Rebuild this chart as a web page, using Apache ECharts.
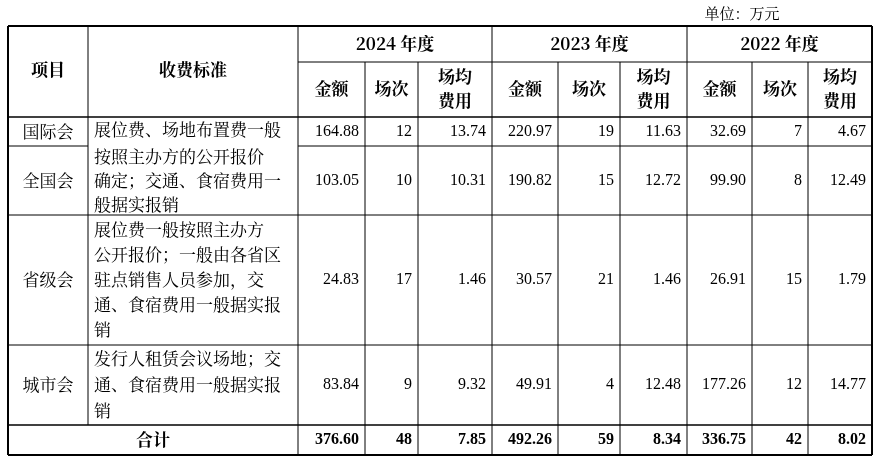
<!DOCTYPE html>
<html><head><meta charset="utf-8">
<script src="https://cdn.jsdelivr.net/npm/echarts@6/dist/echarts.min.js"></script>
<style>html,body{margin:0;padding:0;background:#fff}#c{width:876px;height:465px}</style>
</head><body><div id="c"></div>
<script>
const unitLabel = "单位：万元";
const years = ["2024 年度", "2023 年度", "2022 年度"];
const subHeaders = ["金额", "场次", "场均\n费用"];
const items = ["国际会", "全国会", "省级会", "城市会"];
const criteria = [
  ["展位费、场地布置费一般", "按照主办方的公开报价", "确定；交通、食宿费用一", "般据实报销"],
  ["展位费一般按照主办方", "公开报价；一般由各省区", "驻点销售人员参加，交", "通、食宿费用一般据实报", "销"],
  ["发行人租赁会议场地；交", "通、食宿费用一般据实报", "销"]
];
const rowGJ = ["164.88","12","13.74","220.97","19","11.63","32.69","7","4.67"];
const rowQG = ["103.05","10","10.31","190.82","15","12.72","99.90","8","12.49"];
const rowSJ = ["24.83","17","1.46","30.57","21","1.46","26.91","15","1.79"];
const rowCS = ["83.84","9","9.32","49.91","4","12.48","177.26","12","14.77"];
const totalLabel = "合计";
const rowTotal = ["376.60","48","7.85","492.26","59","8.34","336.75","42","8.02"];

const colX = [8, 88, 298, 365, 418, 492, 558, 620, 687, 752, 808, 872];
const rowY = [26, 62, 117, 146, 215, 345, 425, 455];
const CJK = '"Noto Serif CJK SC","Noto Sans CJK SC",serif';
const NUM = '"Liberation Serif","Times New Roman",serif';
const els = [];
function line(x1,y1,x2,y2,w){els.push({type:'line',shape:{x1,y1,x2,y2},style:{stroke:'#000',lineWidth:w||1}});}
function text(t,x,y,align,font,bold,size){els.push({type:'text',x,y,style:{text:t,textAlign:align||'center',textVerticalAlign:'middle',font:(bold?'bold ':'')+(size||16)+'px '+font,fill:'#000',lineHeight:24}});}

line(colX[0],rowY[0],colX[11],rowY[0],2);
line(colX[0],rowY[7],colX[11],rowY[7],2);
line(colX[0],rowY[0],colX[0],rowY[7],2);
line(colX[11],rowY[0],colX[11],rowY[7],2);
line(colX[2],rowY[1],colX[11],rowY[1],1);
line(colX[0],rowY[2],colX[11],rowY[2],1.5);
line(colX[0],rowY[3],colX[1],rowY[3],1);
line(colX[2],rowY[3],colX[11],rowY[3],1);
line(colX[0],rowY[4],colX[11],rowY[4],1);
line(colX[0],rowY[5],colX[11],rowY[5],1);
line(colX[0],rowY[6],colX[11],rowY[6],1.5);
[1,2].forEach(i=>line(colX[i],rowY[0],colX[i],rowY[6],1));
[5,8].forEach(i=>line(colX[i],rowY[0],colX[i],rowY[7],1));
[3,4,6,7,9,10].forEach(i=>line(colX[i],rowY[1],colX[i],rowY[7],1));
line(colX[2],rowY[6],colX[2],rowY[7],1);

text(unitLabel,742,13,'center',CJK,false,15);
text("项目",(colX[0]+colX[1])/2,70,'center',CJK,true,17);
text("收费标准",(colX[1]+colX[2])/2,70,'center',CJK,true,17);
years.forEach((y,i)=>text(y,(colX[2+i*3]+colX[5+i*3])/2,44,'center',CJK,true,17));
for(let i=0;i<9;i++){text(subHeaders[i%3],(colX[2+i]+colX[3+i])/2,89,'center',CJK,true,17);}

const dataRows=[rowGJ,rowQG,rowSJ,rowCS];
dataRows.forEach((r,ri)=>{
  const cy=(rowY[2+ri]+rowY[3+ri])/2;
  text(items[ri],(colX[0]+colX[1])/2,cy,'center',CJK,false,17);
  r.forEach((v,ci)=>text(v,colX[3+ci]-6,cy,'right',NUM,false,16));
});
const critTops=[130,230,359];
const critStep=[25,25,26];
criteria.forEach((c,i)=>{
  c.forEach((t,j)=>{
    let y=critTops[i]+j*critStep[i];
    if(i===0&&j>0) y=157+(j-1)*24;
    text(t,colX[1]+6,y,'left',CJK,false,17);
  });
});
const ty=(rowY[6]+rowY[7])/2;
text(totalLabel,(colX[0]+colX[2])/2,ty,'center',CJK,true,17);
rowTotal.forEach((v,ci)=>text(v,colX[3+ci]-6,ty,'right',NUM,true,16));

const chart=echarts.init(document.getElementById('c'));
chart.setOption({animation:false,graphic:{elements:els}});
</script></body></html>
